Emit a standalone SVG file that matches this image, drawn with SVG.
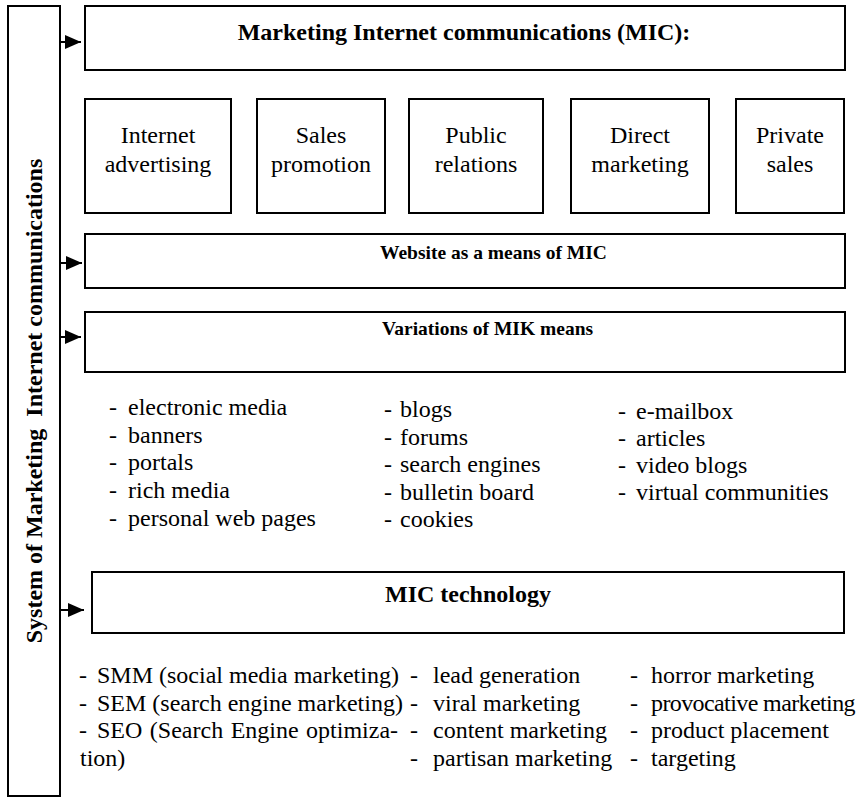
<svg xmlns="http://www.w3.org/2000/svg" width="860" height="799" viewBox="0 0 860 799">
<defs>
<style>
.box{fill:#fff;stroke:#000;stroke-width:2}
.t{font-family:"Liberation Serif","Times New Roman",serif;font-size:24px;fill:#000}
.b{font-weight:bold}
.c{text-anchor:middle}
.s{font-size:19.5px}
.con{stroke:#000;stroke-width:2;fill:none}
</style>
<marker id="ah" markerUnits="userSpaceOnUse" markerWidth="17" markerHeight="15" refX="16" refY="7" orient="auto">
<path d="M0,0 L16,7 L0,14 Z" fill="#000"/>
</marker>
</defs>
<rect width="860" height="799" fill="#fff"/>

<g id="system">
<rect class="box" x="8" y="6" width="52" height="790"/>
<text class="t b c" transform="translate(42,401) rotate(-90)" xml:space="preserve">System of Marketing  Internet communications</text>
</g>

<g id="mic">
<rect class="box" x="85" y="6" width="760" height="64"/>
<text class="t b c" x="464" y="40">Marketing Internet communications (MIC):</text>
</g>

<g id="internet-advertising">
<rect class="box" x="85" y="99" width="146" height="114"/>
<text class="t c" x="158" y="143">Internet</text>
<text class="t c" x="158" y="172">advertising</text>
</g>
<g id="sales-promotion">
<rect class="box" x="257" y="99" width="128" height="114"/>
<text class="t c" x="321" y="143">Sales</text>
<text class="t c" x="321" y="172">promotion</text>
</g>
<g id="public-relations">
<rect class="box" x="409" y="99" width="134" height="114"/>
<text class="t c" x="476" y="143">Public</text>
<text class="t c" x="476" y="172">relations</text>
</g>
<g id="direct-marketing">
<rect class="box" x="571" y="99" width="138" height="114"/>
<text class="t c" x="640" y="143">Direct</text>
<text class="t c" x="640" y="172">marketing</text>
</g>
<g id="private-sales">
<rect class="box" x="736" y="99" width="108" height="114"/>
<text class="t c" x="790" y="143">Private</text>
<text class="t c" x="790" y="172">sales</text>
</g>

<g id="website">
<rect class="box" x="85" y="234" width="760" height="54"/>
<text class="t b s" x="380" y="259">Website as a means of MIC</text>
</g>

<g id="variations">
<rect class="box" x="85" y="312" width="760" height="60"/>
<text class="t b s" x="382" y="335">Variations of MIK means</text>
</g>

<g id="variations-list">
<text class="t" x="109" y="415">- <tspan x="128">electronic media</tspan></text>
<text class="t" x="109" y="443">- <tspan x="128">banners</tspan></text>
<text class="t" x="109" y="470">- <tspan x="128">portals</tspan></text>
<text class="t" x="109" y="498">- <tspan x="128">rich media</tspan></text>
<text class="t" x="109" y="526">- <tspan x="128">personal web pages</tspan></text>
<text class="t" x="384" y="417">- <tspan x="400">blogs</tspan></text>
<text class="t" x="384" y="445">- <tspan x="400">forums</tspan></text>
<text class="t" x="384" y="472">- <tspan x="400">search engines</tspan></text>
<text class="t" x="384" y="500">- <tspan x="400">bulletin board</tspan></text>
<text class="t" x="384" y="527">- <tspan x="400">cookies</tspan></text>
<text class="t" x="618" y="419">- <tspan x="636">e-mailbox</tspan></text>
<text class="t" x="618" y="446">- <tspan x="636">articles</tspan></text>
<text class="t" x="618" y="473">- <tspan x="636">video blogs</tspan></text>
<text class="t" x="618" y="500">- <tspan x="636">virtual communities</tspan></text>
</g>

<g id="technology">
<rect class="box" x="92" y="572" width="752" height="61"/>
<text class="t b c" x="468" y="602">MIC technology</text>
</g>

<g id="technology-list">
<text class="t" x="79" y="683">- <tspan x="97">SMM (social media marketing)</tspan></text>
<text class="t" x="79" y="711">- <tspan x="97">SEM (search engine marketing)</tspan></text>
<text class="t" x="79" y="738">- <tspan x="97" word-spacing="1.5">SEO (Search Engine optimiza-</tspan></text>
<text class="t" x="80" y="766">tion)</text>
<text class="t" x="410" y="683">- <tspan x="433">lead generation</tspan></text>
<text class="t" x="410" y="711">- <tspan x="433">viral marketing</tspan></text>
<text class="t" x="410" y="738">- <tspan x="433">content marketing</tspan></text>
<text class="t" x="410" y="766">- <tspan x="433">partisan marketing</tspan></text>
<text class="t" x="630" y="683">- <tspan x="651">horror marketing</tspan></text>
<text class="t" x="630" y="711">- <tspan x="651" letter-spacing="-0.6">provocative marketing</tspan></text>
<text class="t" x="630" y="738">- <tspan x="651">product placement</tspan></text>
<text class="t" x="630" y="766">- <tspan x="651">targeting</tspan></text>
</g>

<g id="connectors">
<line class="con" x1="60" y1="42" x2="81" y2="42" marker-end="url(#ah)"/>
<line class="con" x1="60" y1="263" x2="82" y2="263" marker-end="url(#ah)"/>
<line class="con" x1="60" y1="337" x2="81" y2="337" marker-end="url(#ah)"/>
<line class="con" x1="60" y1="610" x2="84" y2="610" marker-end="url(#ah)"/>
</g>
</svg>
